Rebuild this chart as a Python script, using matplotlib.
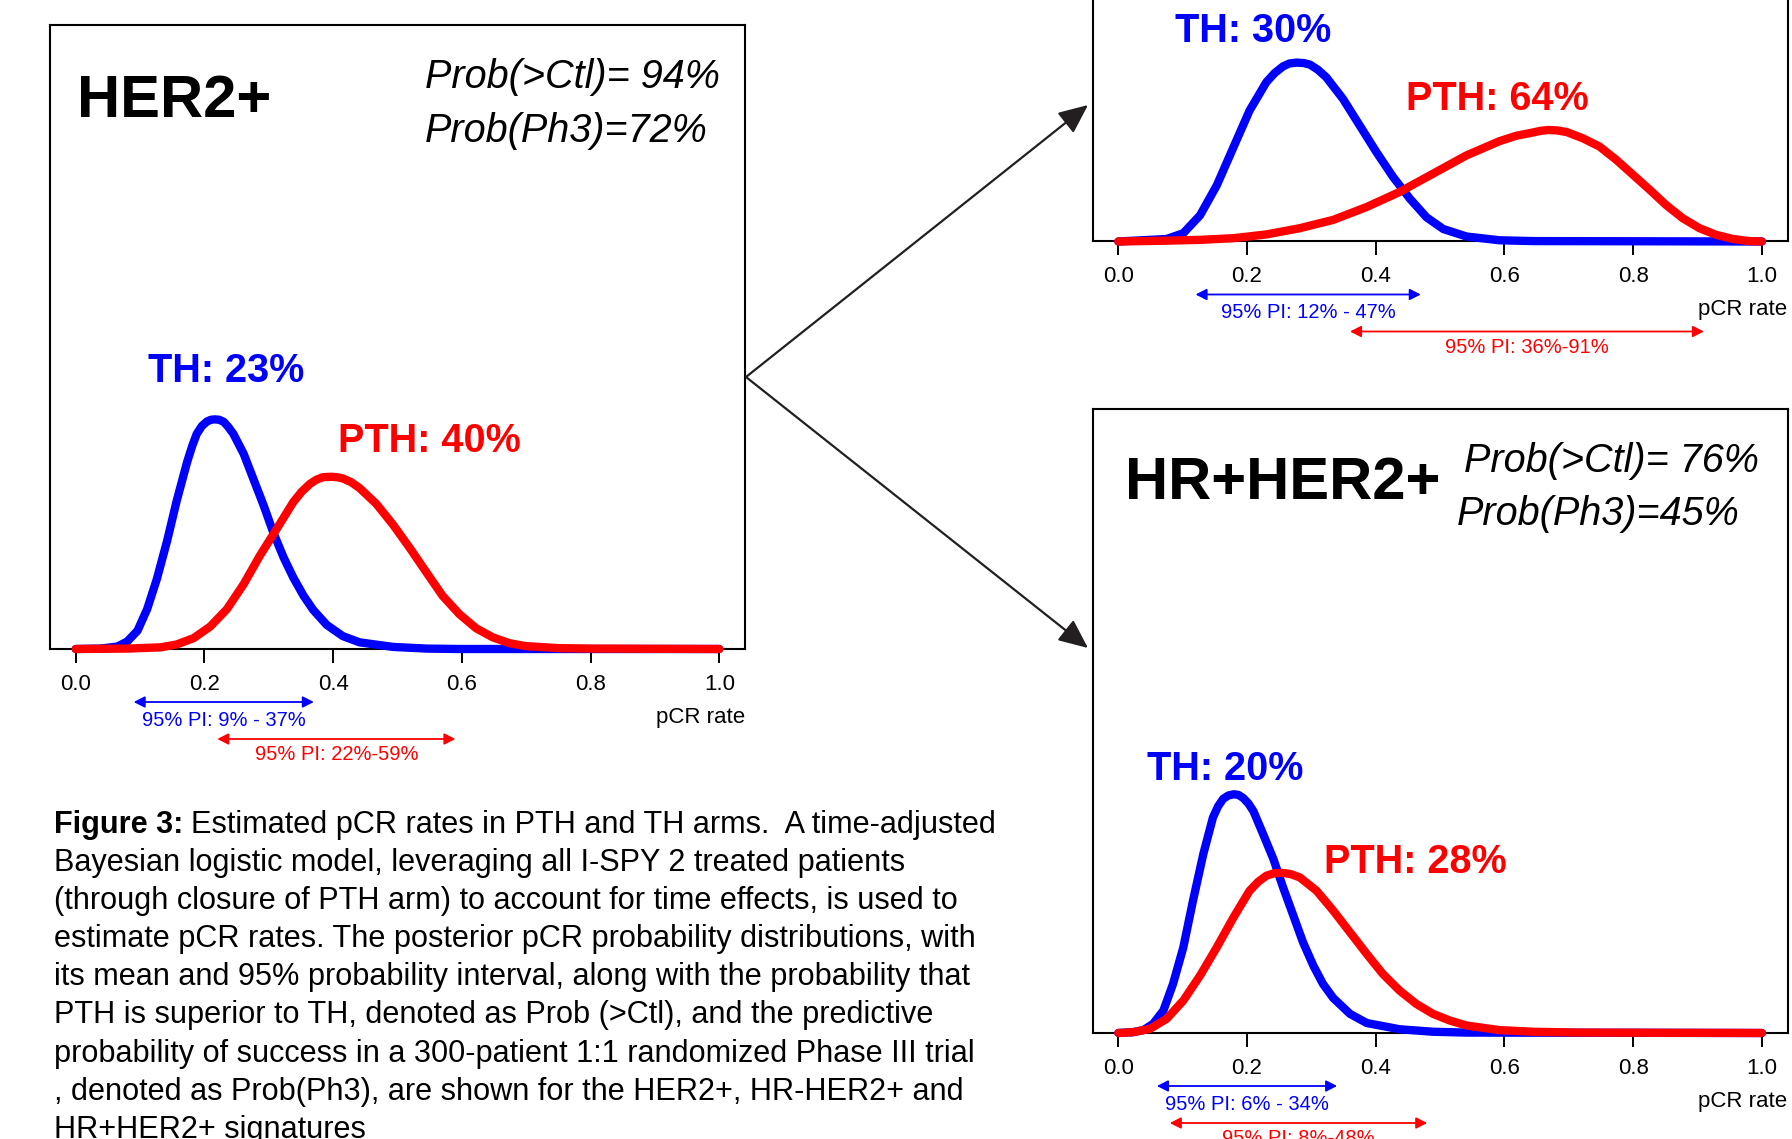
import matplotlib
matplotlib.use("Agg")
import matplotlib.pyplot as plt
from matplotlib.patches import FancyArrowPatch
from matplotlib.transforms import blended_transform_factory

plt.rcParams['font.family'] = ['Liberation Sans', 'DejaVu Sans']

# ---- datos (densidad posterior de la tasa pCR) ----
# Panel HER2+
her2_th_x = [0.000, 0.039, 0.065, 0.080, 0.096, 0.111, 0.126, 0.142, 0.157, 0.173, 0.181, 0.188,
             0.196, 0.204, 0.210, 0.216, 0.223, 0.230, 0.237, 0.245, 0.261, 0.276, 0.292, 0.307,
             0.323, 0.338, 0.354, 0.369, 0.390, 0.415, 0.441, 0.493, 0.545, 0.596, 1.000]
her2_th_y = [0.00, 0.01, 0.06, 0.18, 0.44, 0.96, 1.68, 2.60, 3.57, 4.49, 4.88, 5.17,
             5.36, 5.47, 5.51, 5.52, 5.51, 5.46, 5.34, 5.17, 4.69, 4.09, 3.45, 2.80,
             2.20, 1.72, 1.28, 0.94, 0.58, 0.31, 0.16, 0.05, 0.01, 0.00, 0.00]
her2_pth_x = [0.000, 0.080, 0.132, 0.157, 0.183, 0.209, 0.235, 0.261, 0.286, 0.312, 0.338, 0.351,
              0.364, 0.374, 0.384, 0.397, 0.406, 0.415, 0.428, 0.441, 0.467, 0.493, 0.519, 0.545,
              0.570, 0.596, 0.622, 0.648, 0.674, 0.699, 0.751, 0.803, 1.000]
her2_pth_y = [0.00, 0.01, 0.04, 0.11, 0.26, 0.54, 0.96, 1.56, 2.24, 2.88, 3.53, 3.78,
              3.97, 4.07, 4.13, 4.14, 4.13, 4.10, 4.01, 3.87, 3.49, 2.99, 2.43, 1.84,
              1.28, 0.84, 0.50, 0.28, 0.14, 0.07, 0.02, 0.01, 0.00]

# Panel superior derecho (HR-HER2+)
hrneg_th_x = [0.000, 0.075, 0.101, 0.127, 0.153, 0.179, 0.204, 0.230, 0.243, 0.256, 0.266, 0.277,
              0.288, 0.298, 0.310, 0.323, 0.349, 0.375, 0.401, 0.427, 0.453, 0.479, 0.505,
              0.541, 0.592, 0.644, 1.000]
hrneg_th_y = [0.00, 0.06, 0.20, 0.63, 1.35, 2.27, 3.15, 3.83, 4.05, 4.21, 4.28, 4.30,
              4.29, 4.25, 4.13, 3.95, 3.43, 2.79, 2.15, 1.55, 1.03, 0.58, 0.30,
              0.12, 0.03, 0.01, 0.00]
hrneg_pth_x = [0.000, 0.075, 0.127, 0.179, 0.230, 0.282, 0.334, 0.386, 0.437, 0.489, 0.541, 0.592,
               0.618, 0.644, 0.656, 0.668, 0.682, 0.697, 0.722, 0.748, 0.774, 0.800, 0.826,
               0.851, 0.877, 0.903, 0.929, 0.955, 0.980, 1.000]
hrneg_pth_y = [0.00, 0.02, 0.04, 0.08, 0.17, 0.32, 0.52, 0.83, 1.19, 1.63, 2.07, 2.41,
               2.54, 2.62, 2.66, 2.68, 2.67, 2.63, 2.48, 2.28, 1.96, 1.60, 1.24,
               0.88, 0.56, 0.32, 0.16, 0.06, 0.01, 0.00]

# Panel HR+HER2+
hrpos_th_x = [0.000, 0.023, 0.039, 0.054, 0.070, 0.085, 0.101, 0.116, 0.132, 0.147, 0.155, 0.163,
              0.171, 0.180, 0.187, 0.194, 0.202, 0.210, 0.225, 0.241, 0.256, 0.272, 0.287,
              0.303, 0.318, 0.334, 0.360, 0.386, 0.437, 0.489, 0.541, 1.000]
hrpos_th_y = [0.00, 0.02, 0.07, 0.22, 0.54, 1.18, 2.06, 3.18, 4.30, 5.18, 5.45, 5.63,
              5.71, 5.74, 5.72, 5.65, 5.52, 5.33, 4.78, 4.18, 3.50, 2.82, 2.18,
              1.62, 1.18, 0.84, 0.46, 0.24, 0.09, 0.03, 0.01, 0.00]
hrpos_pth_x = [0.000, 0.023, 0.049, 0.075, 0.101, 0.127, 0.153, 0.179, 0.204, 0.217, 0.230, 0.242,
               0.255, 0.268, 0.282, 0.308, 0.334, 0.360, 0.386, 0.411, 0.437, 0.463, 0.489,
               0.515, 0.541, 0.592, 0.644, 0.717, 1.000]
hrpos_pth_y = [0.00, 0.02, 0.10, 0.34, 0.78, 1.38, 2.06, 2.78, 3.42, 3.63, 3.78, 3.84,
               3.85, 3.82, 3.74, 3.42, 2.94, 2.42, 1.90, 1.42, 1.02, 0.70, 0.46,
               0.30, 0.18, 0.07, 0.03, 0.01, 0.00]

# intervalos de probabilidad del 95%
th_pi = [(0.09, 0.37), (0.12, 0.47), (0.06, 0.34)]
pth_pi = [(0.22, 0.59), (0.36, 0.91), (0.08, 0.48)]
th_pi_labels = ["95% PI: 9% - 37%", "95% PI: 12% - 47%", "95% PI: 6% - 34%"]
pth_pi_labels = ["95% PI: 22%-59%", "95% PI: 36%-91%", "95% PI: 8%-48%"]
th_labels = ["TH: 23%", "TH: 30%", "TH: 20%"]
pth_labels = ["PTH: 40%", "PTH: 64%", "PTH: 28%"]
tick_vals = [0.0, 0.2, 0.4, 0.6, 0.8, 1.0]
tick_labels = ["0.0", "0.2", "0.4", "0.6", "0.8", "1.0"]

caption = ["Estimated pCR rates in PTH and TH arms.  A time-adjusted",
           "Bayesian logistic model, leveraging all I-SPY 2 treated patients",
           "(through closure of PTH arm) to account for time effects, is used to",
           "estimate pCR rates. The posterior pCR probability distributions, with",
           "its mean and 95% probability interval, along with the probability that",
           "PTH is superior to TH, denoted as Prob (>Ctl), and the predictive",
           "probability of success in a 300-patient 1:1 randomized Phase III trial",
           ", denoted as Prob(Ph3), are shown for the HER2+, HR-HER2+ and",
           "HR+HER2+ signatures"]

W, H = 1792, 1139
BLUE, RED, DARK = "#0000ff", "#ff0000", "#231f20"

def fx(x):
    return x / W

def fy(y):
    return 1 - y / H

fig = plt.figure(figsize=(W / 100, H / 100), dpi=100)
fig.patch.set_facecolor("white")

# posiciones de los paneles (borde izquierdo, linea base en pixeles)
panels = [(50, 649), (1092.6, 241.5), (1092.6, 1033)]
curves = [(her2_th_x, her2_th_y, her2_pth_x, her2_pth_y),
          (hrneg_th_x, hrneg_th_y, hrneg_pth_x, hrneg_pth_y),
          (hrpos_th_x, hrpos_th_y, hrpos_pth_x, hrpos_pth_y)]
PW, PH = 695, 624

for i, (left, base) in enumerate(panels):
    ax = fig.add_axes([fx(left), fy(base), PW / W, PH / H])
    tx, ty, px, py = curves[i]
    ax.plot(tx, ty, color=BLUE, lw=6.0, solid_capstyle="round", solid_joinstyle="round",
            clip_on=False, zorder=3)
    ax.plot(px, py, color=RED, lw=6.0, solid_capstyle="round", solid_joinstyle="round",
            clip_on=False, zorder=4)
    ax.set_xlim(-0.04, 1.04)
    ax.set_ylim(0, 15)
    ax.set_yticks([])
    ax.set_xticks(tick_vals)
    ax.set_xticklabels(tick_labels)
    ax.tick_params(axis="x", length=10, width=1.4, pad=8, labelsize=16, color="black")
    for sp in ax.spines.values():
        sp.set_linewidth(1.5)
    ax.text(1.0, -68 / PH, "pCR rate", transform=ax.transAxes, ha="right", va="center",
            fontsize=16)
    # flechas del intervalo de probabilidad
    trans = blended_transform_factory(ax.transData, ax.transAxes)
    for (lo, hi), lab, c, ya, yt in [(th_pi[i], th_pi_labels[i], BLUE, 53, 71),
                                     (pth_pi[i], pth_pi_labels[i], RED, 90, 106)]:
        ax.annotate("", xy=(hi, -ya / PH), xytext=(lo, -ya / PH), xycoords=trans,
                    textcoords=trans, annotation_clip=False,
                    arrowprops=dict(arrowstyle="<|-|>,head_length=0.55,head_width=0.28",
                                    color=c, lw=1.3, mutation_scale=12,
                                    shrinkA=0, shrinkB=0))
        ax.text((lo + hi) / 2, -yt / PH, lab, transform=trans, ha="center", va="center",
                color=c, fontsize=14.5, clip_on=False)

# titulos y probabilidades
fig.text(fx(77), fy(117), "HER2+", fontsize=43, weight="bold", va="baseline")
fig.text(fx(425), fy(88), "Prob(>Ctl)= 94%", fontsize=28.5, style="italic", va="baseline")
fig.text(fx(425), fy(142), "Prob(Ph3)=72%", fontsize=28.5, style="italic", va="baseline")
fig.text(fx(1125), fy(499), "HR+HER2+", fontsize=43, weight="bold", va="baseline")
fig.text(fx(1464), fy(472), "Prob(>Ctl)= 76%", fontsize=28.5, style="italic", va="baseline")
fig.text(fx(1457), fy(525), "Prob(Ph3)=45%", fontsize=28.5, style="italic", va="baseline")

# etiquetas de medias
label_pos = [((148, 382), (338, 452)), ((1175, 42), (1406, 110)), ((1147, 780), (1324, 873))]
for i, ((tx0, ty0), (px0, py0)) in enumerate(label_pos):
    fig.text(fx(tx0), fy(ty0), th_labels[i], color=BLUE, fontsize=28.5, weight="bold",
             va="baseline")
    fig.text(fx(px0), fy(py0), pth_labels[i], color=RED, fontsize=28.5, weight="bold",
             va="baseline")

# flechas que conectan los paneles
for end in [(1088, 105), (1088, 648)]:
    arr = FancyArrowPatch((fx(746), fy(377)), (fx(end[0]), fy(end[1])),
                          transform=fig.transFigure,
                          arrowstyle="-|>,head_length=0.9,head_width=0.4",
                          mutation_scale=20, color=DARK, lw=1.6, shrinkA=0, shrinkB=0)
    fig.add_artist(arr)

# pie de figura
renderer = fig.canvas.get_renderer()
probe = fig.text(0, 0, caption[6], fontsize=22)
cap_size = 22 * 918 / probe.get_window_extent(renderer).width
probe.remove()

bold = fig.text(fx(54), fy(833), "Figure 3:", fontsize=cap_size, weight="bold", va="baseline")
bb = bold.get_window_extent(renderer)
for k, line in enumerate(caption):
    x0 = (bb.x1 + cap_size * 0.35) / W if k == 0 else fx(54)
    fig.text(x0, fy(833 + 38.1 * k), line, fontsize=cap_size, va="baseline")

fig.savefig("out.png", dpi=100)
